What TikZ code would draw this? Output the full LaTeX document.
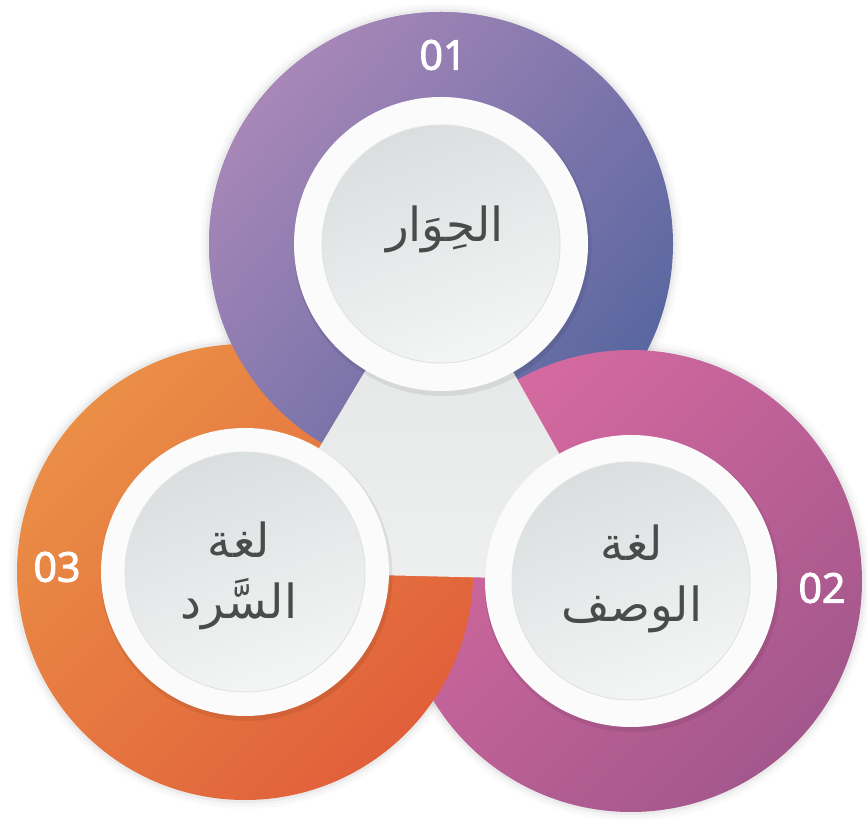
\documentclass[tikz,border=0pt]{standalone}
\usepackage{fontspec}
\setmainfont{Open Sans}
\newfontfamily\digitfont[FakeBold=2.6]{Open Sans}
\newfontfamily\arabicfont[Script=Arabic]{DejaVu Sans}
\TeXXeTstate=1
\usetikzlibrary{calc}

\definecolor{purpleL}{HTML}{A887B8}
\definecolor{purpleD}{HTML}{5866A0}
\definecolor{pinkL}{HTML}{D66AA0}
\definecolor{pinkD}{HTML}{A3578C}
\definecolor{orangeL}{HTML}{EA8E46}
\definecolor{orangeD}{HTML}{E1603A}
\definecolor{triTop}{HTML}{E2E5E5}
\definecolor{triBot}{HTML}{EEEFEF}
\definecolor{ringW}{HTML}{FBFBFB}
\definecolor{discTop}{HTML}{DADEDF}
\definecolor{discBot}{HTML}{F4F5F5}
\definecolor{discEdge}{HTML}{E2E4E4}
\definecolor{inkAr}{HTML}{4A4C4C}

\begin{document}
\begin{tikzpicture}[x=1pt,y=1pt,
  digit/.style={text=white,font=\digitfont\fontsize{41}{44}\selectfont},
  artext/.style={text=inkAr,align=center,font=\arabicfont\fontsize{47}{61}\selectfont},
  ringshadow/.style={fill=black,opacity=0.07},
  ring/.style={fill=ringW},
  disc/.style={top color=discTop,bottom color=discBot,shading angle=20,draw=discEdge,line width=1pt}]
\useasboundingbox (0,0) rectangle (867,819);
\fill[white] (0,0) rectangle (867,819);

% circle centres
\coordinate (T) at (441,575);
\coordinate (L) at (245,247);
\coordinate (R) at (631,238);

% soft halo round the coloured circles
\foreach \d/\o in {9/0.015,6/0.025,3/0.04}{
  \fill[black,opacity=\o] (T) circle[radius=232+\d];
  \fill[black,opacity=\o] (R) circle[radius=231+\d];
  \fill[black,opacity=\o] (L) circle[radius=228+\d];
}

% coloured circles (each one overlaps the next)
\shade[left color=purpleL,right color=purpleD,shading angle=50] (T) circle[radius=232];
\shade[left color=pinkL,right color=pinkD,shading angle=45] (R) circle[radius=231];
\shade[left color=orangeL,right color=orangeD,shading angle=45] (L) circle[radius=228];
\begin{scope}
  \clip (637,903) -- (147,83) -- (-300,83) -- (-300,903) -- cycle;
  \shade[left color=purpleL,right color=purpleD,shading angle=50] (T) circle[radius=232];
\end{scope}

% central triangle
\shade[top color=triTop,bottom color=triBot] (T) -- (L) -- (R) -- cycle;

% white rings and discs
\foreach \c/\r/\s in {T/147/119,L/144/120,R/146/119}{
  \fill[ringshadow] ($(\c)+(1.5,-3)$) circle[radius=\r+2];
  \fill[ring] (\c) circle[radius=\r];
  \shade[disc] (\c) circle[radius=\s];
}

% numbers
\node[digit] (n1) at (443,764) {01};
\node[digit] (n2) at (822,231) {02};
\node[digit] (n3) at (57,252) {03};

% labels
\node[artext] (t1) at (445,590) {\beginR الحِوَار\endR};
\node[artext] (t2) at (632,240) {\beginR لغة\endR\\\beginR الوصف\endR};
\node[artext] (t3) at (239,243) {\beginR لغة\endR\\\beginR السَّرد\endR};
\end{tikzpicture}
\end{document}
